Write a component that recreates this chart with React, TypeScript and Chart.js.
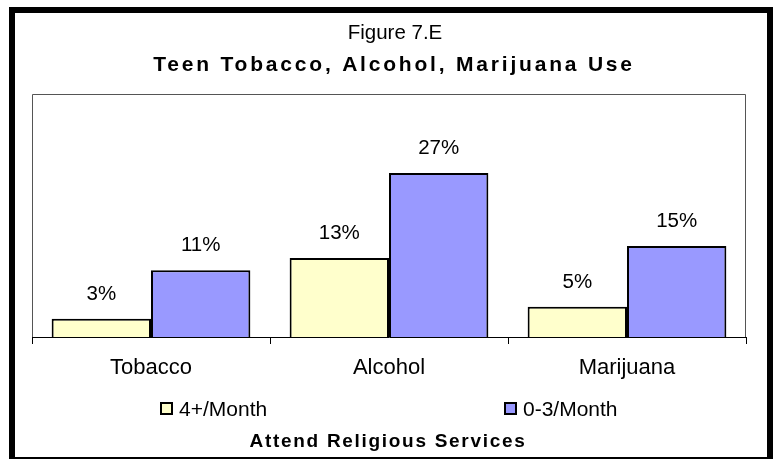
import React, { useEffect, useRef } from "react";
import { Chart, registerables } from "chart.js";

Chart.register(...registerables);

const categories = ["Tobacco", "Alcohol", "Marijuana"];
const seriesNames = ["4+/Month", "0-3/Month"];
const frequentValues = [3, 13, 5];
const infrequentValues = [11, 27, 15];
const seriesColors = ["#FFFFCC", "#9999FF"];
const figureLabel = "Figure 7.E";
const titleText = "Teen Tobacco, Alcohol, Marijuana Use";
const xAxisTitle = "Attend Religious Services";
const yMin = 0;
const yMax = 40;

const FONT = "'Liberation Sans', Arial, sans-serif";

const decorations = {
  id: "decorations",
  beforeDraw(chart: any) {
    const ctx = chart.ctx;
    ctx.save();
    ctx.fillStyle = "#ffffff";
    ctx.fillRect(0, 0, chart.width, chart.height);
    // frame
    ctx.fillStyle = "#000000";
    ctx.fillRect(9, 7, 764, 6);
    ctx.fillRect(9, 7, 6, 452);
    ctx.fillRect(767, 7, 6, 452);
    ctx.fillRect(9, 457, 764, 2);
    ctx.restore();
  },
  afterDatasetsDraw(chart: any) {
    const ctx = chart.ctx;
    ctx.save();
    ctx.fillStyle = "#000000";
    ctx.font = `20.5px ${FONT}`;
    ctx.textAlign = "center";
    ctx.textBaseline = "alphabetic";
    chart.data.datasets.forEach((ds: any, di: number) => {
      const meta = chart.getDatasetMeta(di);
      meta.data.forEach((bar: any, i: number) => {
        const v = ds.data[i];
        ctx.fillText(`${v}%`, bar.x, bar.y - 26 + 7.3);
      });
    });
    ctx.restore();
  },
  afterDraw(chart: any) {
    const ctx = chart.ctx;
    const area = chart.chartArea;
    ctx.save();
    // plot area border (left, top, right)
    ctx.strokeStyle = "#555555";
    ctx.lineWidth = 1;
    ctx.beginPath();
    ctx.moveTo(Math.round(area.left) + 0.5, area.bottom);
    ctx.lineTo(Math.round(area.left) + 0.5, Math.round(area.top) + 0.5);
    ctx.lineTo(Math.round(area.right) - 0.5, Math.round(area.top) + 0.5);
    ctx.lineTo(Math.round(area.right) - 0.5, area.bottom);
    ctx.stroke();

    ctx.fillStyle = "#000000";
    ctx.textAlign = "center";
    ctx.textBaseline = "alphabetic";
    ctx.font = `20.5px ${FONT}`;
    ctx.fillText(figureLabel, 395, 39);

    ctx.font = `bold 21px ${FONT}`;
    (ctx as any).letterSpacing = "2.8px";
    ctx.fillText(titleText, 394, 71);

    ctx.font = `bold 19px ${FONT}`;
    (ctx as any).letterSpacing = "1.7px";
    ctx.fillText(xAxisTitle, 388, 447);
    (ctx as any).letterSpacing = "0px";

    // legend
    const legendX = [160, 504];
    ctx.textAlign = "left";
    ctx.font = `21px ${FONT}`;
    chart.data.datasets.forEach((ds: any, di: number) => {
      const x = legendX[di];
      ctx.fillStyle = ds.backgroundColor;
      ctx.fillRect(x + 1, 403, 11, 11);
      ctx.strokeStyle = "#000000";
      ctx.lineWidth = 2;
      ctx.strokeRect(x + 1, 403, 11, 11);
      ctx.fillStyle = "#000000";
      ctx.fillText(ds.label, x + 19, 416);
    });
    ctx.restore();
  },
};

export default function App() {
  const canvasRef = useRef<HTMLCanvasElement | null>(null);

  useEffect(() => {
    const canvas = canvasRef.current;
    if (!canvas) return;
    const chart = new Chart(canvas, {
      type: "bar",
      data: {
        labels: categories,
        datasets: [
          {
            label: seriesNames[0],
            data: frequentValues,
            backgroundColor: seriesColors[0],
            borderColor: "#000000",
            borderWidth: 2,
            categoryPercentage: 0.835,
            barPercentage: 1,
          },
          {
            label: seriesNames[1],
            data: infrequentValues,
            backgroundColor: seriesColors[1],
            borderColor: "#000000",
            borderWidth: 2,
            categoryPercentage: 0.835,
            barPercentage: 1,
          },
        ],
      },
      plugins: [decorations],
      options: {
        responsive: false,
        animation: false,
        devicePixelRatio: 1,
        layout: { padding: { left: 32, right: 32, top: 94, bottom: 63 } },
        plugins: {
          legend: { display: false },
          title: { display: false },
          tooltip: { enabled: false },
        },
        scales: {
          x: {
            offset: true,
            grid: {
              offset: true,
              drawOnChartArea: false,
              drawTicks: true,
              tickLength: 7,
              color: "#000000",
            },
            border: { display: true, color: "#000000", width: 1 },
            ticks: {
              color: "#000000",
              font: { family: FONT, size: 22 },
              padding: 11,
              maxRotation: 0,
            },
            afterFit: (scale: any) => {
              scale.height = 60;
            },
          },
          y: {
            display: false,
            min: yMin,
            max: yMax,
          },
        },
      },
    });
    return () => chart.destroy();
  }, []);

  return (
    <div style={{ position: "fixed", left: 0, top: 0, width: 778, height: 460, background: "#fff" }}>
      <canvas ref={canvasRef} width={778} height={460} style={{ display: "block" }} />
    </div>
  );
}
